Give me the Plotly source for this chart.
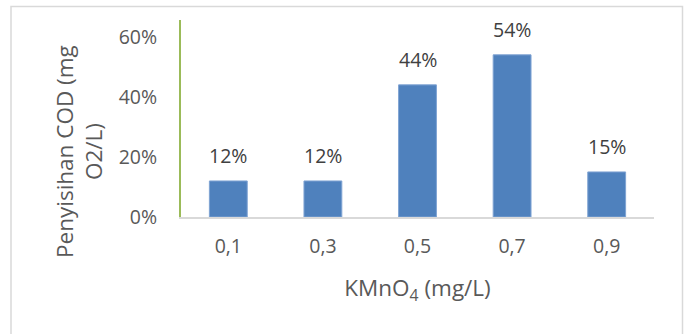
import plotly.graph_objects as go

# KMnO4 dose (mg/L) and COD removal fraction
doses = ["0,1", "0,3", "0,5", "0,7", "0,9"]
removal = [0.12, 0.12, 0.44, 0.54, 0.15]
y_ticks = [0, 0.2, 0.4, 0.6]
y_tick_text = ["0%", "20%", "40%", "60%"]

W, H = 686, 334
L, R, T, B = 181, 32, 20, 117

FONT = "Open Sans, Liberation Sans, sans-serif"

fig = go.Figure()
fig.add_trace(go.Bar(
    x=doses,
    y=removal,
    width=0.4,
    marker=dict(color="#4F81BD", line=dict(color="#7FA3D3", width=1)),
    hoverinfo="skip",
))

# value labels above each bar
for d, v in zip(doses, removal):
    fig.add_annotation(
        x=d, y=v, text=f"{v:.0%}", showarrow=False,
        yanchor="middle", yshift=25,
        font=dict(family=FONT, size=19.5, color="#404040"),
    )

# pixel -> paper coordinate helpers for the plot area
pw, ph = W - L - R, H - T - B
def px_x(p):
    return (p - L) / pw
def px_y(p):
    return (H - B - p) / ph

# outer chart border
fig.add_shape(
    type="rect", xref="paper", yref="paper",
    x0=px_x(11), x1=px_x(682.5), y0=px_y(345), y1=px_y(6.5),
    line=dict(color="#D9D9D9", width=1.5), fillcolor="rgba(0,0,0,0)",
    layer="below",
)

# vertical axis title, placed lower than the plot's middle
fig.add_annotation(
    xref="paper", yref="paper", x=px_x(79), y=px_y(152),
    text="Penyisihan COD (mg<br>O2/L)", textangle=-90, showarrow=False,
    xanchor="center", yanchor="middle", align="center",
    font=dict(family=FONT, size=22.5, color="#595959"),
)

fig.update_layout(
    width=W, height=H,
    margin=dict(l=L, r=R, t=T, b=B, pad=0),
    paper_bgcolor="white", plot_bgcolor="white",
    showlegend=False,
    font=dict(family=FONT, color="#595959"),
    bargap=0.6,
    xaxis=dict(
        showline=True, linecolor="#D9D9D9", linewidth=1.5,
        showgrid=False, zeroline=False, ticks="",
        tickfont=dict(size=19.5, color="#595959"),
        ticklabelstandoff=11,
        title=dict(text="KMnO<sub>4</sub> (mg/L)", standoff=22,
                   font=dict(size=22.5, color="#595959")),
    ),
    yaxis=dict(
        range=[0, 0.656],
        tickvals=y_ticks, ticktext=y_tick_text,
        showline=True, linecolor="#9BBB59", linewidth=2,
        showgrid=False, zeroline=False, ticks="",
        tickfont=dict(size=19.5, color="#595959"),
        ticklabelstandoff=18,
    ),
)

fig.write_html("out.html")
